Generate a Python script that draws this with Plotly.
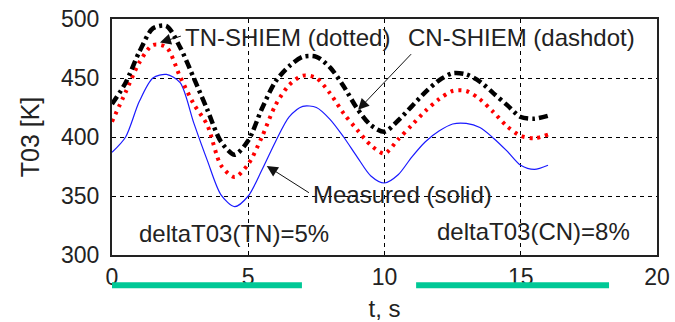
import plotly.graph_objects as go

# ---- data ----
t = [0.0, 0.5, 1.0, 1.5, 2.0, 2.5, 3.0, 3.5, 4.0, 4.5, 5.0, 5.5, 6.0, 6.5, 7.0, 7.5,
     8.0, 8.5, 9.0, 9.5, 10.0, 10.5, 11.0, 11.5, 12.0, 12.5, 13.0, 13.5, 14.0, 14.5,
     15.0, 15.5, 16.0]
measured = [387, 400, 430, 450, 453, 446, 412, 380, 351, 341, 350, 372, 396, 417, 426, 425,
            415, 400, 383, 367, 361, 368, 383, 396, 405, 411, 411.5, 408, 399, 388,
            376, 372.5, 376]
tn_shiem = [413, 438, 463, 478, 476, 451, 428, 410, 376, 366, 377, 400, 427, 444, 452, 450,
            437, 420, 406, 393, 386, 398, 410, 422, 432, 439, 439, 432, 421, 409,
            401, 399, 402]
cn_shiem = [428, 446, 472, 492, 494, 476, 450, 423, 396, 385, 397, 424, 447, 460, 468, 468,
            459, 443, 424, 410, 404.5, 414, 426, 438, 448, 454, 453, 447, 437, 427,
            417, 415.5, 418]

x_ticks = [0, 5, 10, 15, 20]
y_ticks = [300, 350, 400, 450, 500]

# green bars under the axis (x extents in t units)
bar_starts = [-0.07, 11.16]
bar_ends = [6.97, 18.24]

# labels: (text, x, y, xanchor)
labels = [
    ("TN-SHIEM (dotted)", 2.62, 484, "left"),
    ("CN-SHIEM (dashdot)", 10.8, 484, "left"),
    ("Measured (solid)", 7.3, 351.5, "left"),
    ("deltaT03(TN)=5%", 4.48, 318, "center"),
    ("deltaT03(CN)=8%", 15.47, 320, "center"),
]
# arrows: (tip_x, tip_y, tail_x, tail_y)
arrows = [
    (1.76, 480, 2.6, 486),
    (9.03, 423, 11.05, 472),
    (5.68, 375.5, 7.3, 351.7),
]

FONT = "Liberation Sans, Arial, sans-serif"

fig = go.Figure()
fig.add_trace(go.Scatter(x=t, y=measured, mode="lines", name="Measured",
                         line=dict(color="#1a1aff", width=1.2, shape="spline", smoothing=0.8)))
fig.add_trace(go.Scatter(x=t, y=tn_shiem, mode="lines", name="TN-SHIEM",
                         line=dict(color="#ff0000", width=4, dash="3px,5px", shape="spline", smoothing=0.8)))
fig.add_trace(go.Scatter(x=t, y=cn_shiem, mode="lines", name="CN-SHIEM",
                         line=dict(color="#000000", width=4.5, dash="9px,4px,3px,4px", shape="spline", smoothing=0.8)))

for x0, x1 in zip(bar_starts, bar_ends):
    fig.add_shape(type="line", xref="x", yref="paper", x0=x0, x1=x1, y0=-0.128, y1=-0.128,
                  line=dict(color="#00c896", width=6), layer="above")

for txt, x, y, xa in labels:
    fig.add_annotation(x=x, y=y, xref="x", yref="y", text=txt, showarrow=False,
                       xanchor=xa, yanchor="middle",
                       font=dict(family=FONT, size=24, color="#222222"))

for hx, hy, tx, ty in arrows:
    fig.add_annotation(x=hx, y=hy, xref="x", yref="y", ax=tx, ay=ty, axref="x", ayref="y",
                       text=" ", showarrow=True, arrowhead=2, arrowsize=2.2, arrowwidth=1,
                       arrowcolor="#111111", font=dict(size=2))

axis_common = dict(showline=True, mirror=True, linecolor="#222222", linewidth=2,
                   showgrid=True, gridcolor="#000000", gridwidth=1, griddash="4px,4px",
                   zeroline=False, ticks="", automargin=False,
                   tickfont=dict(family=FONT, size=23, color="#222222"))

fig.update_layout(
    width=675, height=322,
    margin=dict(l=112, r=18, t=19, b=67, autoexpand=False),
    paper_bgcolor="white", plot_bgcolor="white",
    showlegend=False,
    xaxis=dict(range=[0, 20], tickvals=x_ticks, ticklabelstandoff=0,
               title=dict(text="t, s", font=dict(family=FONT, size=24, color="#222222"), standoff=16),
               **axis_common),
    yaxis=dict(range=[300, 500], tickvals=y_ticks, ticklabelstandoff=6,
               title=dict(text="T03 [K]", font=dict(family=FONT, size=25, color="#222222"), standoff=14),
               **axis_common),
)

fig.write_html("out.html", config={"displayModeBar": False},
               post_script="document.body.style.margin='0';document.body.style.padding='0';")
